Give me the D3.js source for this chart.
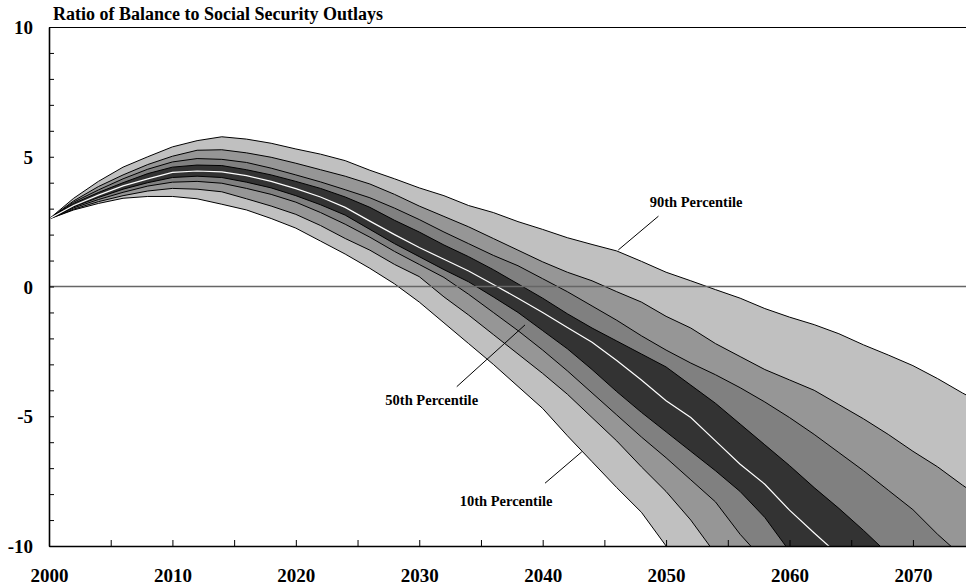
<!DOCTYPE html>
<html><head><meta charset="utf-8">
<script src="https://cdn.jsdelivr.net/npm/d3@7"></script>
<style>
body{margin:0;background:#fff}
svg{display:block}
text{font-family:"Liberation Serif","Times New Roman",Times,serif;font-weight:bold;fill:#000}
</style>
</head><body>
<svg id="chart" width="966" height="587"></svg>
<script>
const title = "Ratio of Balance to Social Security Outlays";
const years = [2000,2002,2004,2006,2008,2010,2012,2014,2016,2018,2020,2022,2024,2026,2028,2030,2032,2034,2036,2038,2040,2042,2044,2046,2048,2050,2052,2054,2056,2058,2060,2062,2064,2066,2068,2070,2072,2074,2076];
const p90 = [2.6,3.4,4.05,4.6,5.0,5.38,5.62,5.77,5.68,5.52,5.3,5.1,4.85,4.48,4.15,3.8,3.5,3.12,2.85,2.5,2.2,1.88,1.62,1.37,0.97,0.55,0.22,-0.12,-0.45,-0.85,-1.18,-1.47,-1.82,-2.25,-2.64,-3.05,-3.55,-4.1,-4.6];
const p80 = [2.6,3.3,3.85,4.3,4.7,5.02,5.25,5.27,5.15,4.98,4.75,4.5,4.25,3.95,3.55,3.1,2.7,2.3,1.85,1.4,0.95,0.55,0.22,-0.2,-0.6,-1.15,-1.6,-2.2,-2.7,-3.2,-3.6,-4.0,-4.55,-5.1,-5.7,-6.35,-6.95,-7.65,-8.3];
const p70 = [2.6,3.25,3.72,4.15,4.52,4.8,4.93,4.9,4.78,4.56,4.3,4.03,3.73,3.42,3.02,2.58,2.1,1.65,1.2,0.8,0.3,-0.2,-0.75,-1.3,-1.9,-2.45,-2.95,-3.4,-3.9,-4.45,-5.05,-5.7,-6.4,-7.1,-7.85,-8.6,-9.55,-10.4,-11.2];
const p60 = [2.6,3.2,3.62,4.0,4.35,4.6,4.68,4.66,4.5,4.3,4.05,3.78,3.45,3.05,2.55,2.1,1.6,1.15,0.65,0.1,-0.45,-1.05,-1.6,-2.1,-2.6,-3.1,-3.8,-4.5,-5.3,-6.1,-6.9,-7.75,-8.55,-9.4,-10.3,-11.2,null,null,null];
const p50 = [2.6,3.12,3.52,3.88,4.15,4.4,4.45,4.42,4.27,4.05,3.77,3.45,3.05,2.52,2.0,1.5,1.05,0.6,0.08,-0.45,-1.0,-1.58,-2.15,-2.85,-3.6,-4.4,-5.05,-5.95,-6.85,-7.62,-8.62,-9.5,-10.35,-11.2,null,null,null,null,null];
const p40 = [2.6,3.07,3.43,3.75,4.0,4.2,4.25,4.2,4.02,3.8,3.5,3.15,2.75,2.2,1.65,1.15,0.65,0.18,-0.4,-1.0,-1.7,-2.4,-3.2,-4.05,-4.85,-5.6,-6.35,-7.1,-7.9,-8.9,-10.2,-11.2,null,null,null,null,null,null,null];
const p30 = [2.6,3.03,3.35,3.63,3.87,4.02,4.05,3.98,3.78,3.55,3.25,2.85,2.4,1.9,1.35,0.85,0.35,-0.3,-1.0,-1.7,-2.45,-3.25,-4.1,-4.95,-5.8,-6.6,-7.45,-8.3,-9.55,-10.6,-11.5,null,null,null,null,null,null,null,null];
const p20 = [2.6,2.98,3.27,3.5,3.68,3.78,3.75,3.65,3.38,3.1,2.78,2.35,1.85,1.4,0.85,0.38,-0.4,-1.1,-1.85,-2.6,-3.35,-4.15,-5.05,-5.95,-6.95,-7.9,-9.0,-10.3,-11.3,null,null,null,null,null,null,null,null,null,null];
const p10 = [2.6,2.95,3.2,3.4,3.47,3.47,3.38,3.17,2.95,2.62,2.25,1.75,1.25,0.7,0.1,-0.6,-1.4,-2.2,-3.0,-3.85,-4.7,-5.75,-6.75,-7.75,-8.7,-10.0,-11.0,null,null,null,null,null,null,null,null,null,null,null,null];
const xTicks = [2000,2005,2010,2015,2020,2025,2030,2035,2040,2045,2050,2055,2060,2065,2070];
const xTickLabels = ["2000","2010","2020","2030","2040","2050","2060","2070"];
const yTicks = [-10,-9,-8,-7,-6,-5,-4,-3,-2,-1,0,1,2,3,4,5,6,7,8,9,10];
const yTickLabels = ["-10","-5","0","5","10"];
const annLabels = ["90th Percentile","50th Percentile","10th Percentile"];
const annLabelYear = [2052.43,2031.01,2037.03];
const annLabelValue = [3.08,-4.57,-8.45];
const annLeaderFrom = [[2049.38,2.71],[2033.04,-3.86],[2040.19,-7.58]];
const annLeaderTo = [[2046.13,1.41],[2038.57,-1.48],[2043.17,-6.37]];

const svg = d3.select("#chart");
const x = d3.scaleLinear().domain([2000, 2074.3]).range([49, 966]);
const y = d3.scaleLinear().domain([-10, 10]).range([546, 27]);
const v = d => (d == null ? -12 : d);

svg.append("defs").append("clipPath").attr("id","plot")
  .append("rect").attr("x",49).attr("y",27).attr("width",917).attr("height",519);

const g = svg.append("g").attr("clip-path","url(#plot)");
const bands = [[p10,p90,"#c0c0c0"],[p20,p80,"#969696"],[p30,p70,"#808080"],[p40,p60,"#333333"]];
bands.forEach(([lo,hi,col]) => {
  const area = d3.area()
    .x((d,i) => x(years[i]))
    .y0((d,i) => y(v(lo[i])))
    .y1((d,i) => y(v(hi[i])));
  g.append("path").datum(years).attr("d", area).attr("fill", col).attr("stroke","none");
});
const line = d3.line().x((d,i) => x(years[i])).y(d => y(v(d)));
[p10,p20,p30,p40,p60,p70,p80,p90].forEach(s => {
  g.append("path").datum(s).attr("d", line).attr("fill","none").attr("stroke","#000").attr("stroke-width",1);
});
g.append("path").datum(p50).attr("d", line).attr("fill","none").attr("stroke","#fff").attr("stroke-width",1.2);

// zero line
svg.append("line").attr("x1",49).attr("x2",966).attr("y1",y(0)).attr("y2",y(0))
  .attr("stroke","#666").attr("stroke-width",1.5);

// top frame line
svg.append("line").attr("x1",49).attr("x2",966).attr("y1",y(10)+0.5).attr("y2",y(10)+0.5)
  .attr("stroke","#000").attr("stroke-width",1);

// axes
const yAxis = d3.axisLeft(y).tickValues(yTicks).tickSize(-5).tickSizeOuter(0).tickPadding(16)
  .tickFormat(d => yTickLabels.includes(String(d)) ? String(d) : "");
const ya = svg.append("g").attr("transform","translate(49,0)").call(yAxis);
ya.select(".domain").attr("stroke","#000").attr("stroke-width",1.6);
ya.selectAll(".tick line").attr("stroke","#000").attr("stroke-width",1);
ya.selectAll(".tick text").attr("font-size",19).attr("font-family",null).attr("dy","0.35em");

const xAxis = d3.axisBottom(x).tickValues(xTicks).tickSize(-6).tickSizeOuter(0).tickPadding(23)
  .tickFormat(d => xTickLabels.includes(String(d)) ? String(d) : "");
const xa = svg.append("g").attr("transform","translate(0,546)").call(xAxis);
xa.select(".domain").attr("stroke","#000").attr("stroke-width",1.6);
xa.selectAll(".tick line").attr("stroke","#000").attr("stroke-width",1);
xa.selectAll(".tick text").attr("font-size",19).attr("font-family",null);

// title
svg.append("text").attr("x",53).attr("y",20).attr("font-size",18).text(title);

// annotations
annLabels.forEach((t,i) => {
  svg.append("line")
    .attr("x1", x(annLeaderFrom[i][0])).attr("y1", y(annLeaderFrom[i][1]))
    .attr("x2", x(annLeaderTo[i][0])).attr("y2", y(annLeaderTo[i][1]))
    .attr("stroke","#000").attr("stroke-width",1);
  svg.append("text").attr("x", x(annLabelYear[i])).attr("y", y(annLabelValue[i]))
    .attr("text-anchor","middle").attr("font-size",14.5).text(t);
});
</script>
</body></html>
